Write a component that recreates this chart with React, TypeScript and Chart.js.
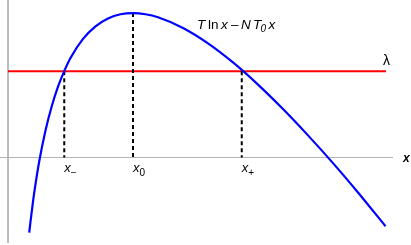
import React, { useEffect, useRef } from "react";
import { Chart, registerables } from "chart.js";

Chart.register(...registerables);

// Curve T ln x − N T0 x
const curveX = [0.17, 0.18, 0.2, 0.22, 0.25, 0.3, 0.35, 0.4, 0.45, 0.5, 0.6, 0.7, 0.8, 0.9, 1.0, 1.1, 1.2, 1.4, 1.6, 1.8, 2.0, 2.2, 2.4, 2.6, 2.8, 3.02];
const curveY = [-0.322, -0.275, -0.189, -0.114, -0.016, 0.116, 0.22, 0.304, 0.371, 0.427, 0.509, 0.563, 0.597, 0.615, 0.62, 0.615, 0.602, 0.556, 0.49, 0.408, 0.313, 0.208, 0.095, -0.024, -0.15, -0.295];

const lambdaValue = 0.37;
const lambdaRange = [0, 3.024];

const markerX = [0.45, 1.0, 1.87];
const markerY = [0.37, 0.62, 0.37];
const markerSubs = ["\u2212", "0", "+"];

const xRange = [-0.064, 3.224];
const yRange = [-0.3755, 0.676];
const hAxisRange = [-0.064, 3.08];
const vAxisRange = [-0.367, 0.676];

const FONT = "'Liberation Sans', Arial, sans-serif";

const textPlugin = {
  id: "textLabels",
  afterDatasetsDraw(chart: any) {
    const ctx = chart.ctx;
    const xs = chart.scales.x;
    const ys = chart.scales.y;
    ctx.save();
    ctx.fillStyle = "#000";
    ctx.textBaseline = "alphabetic";
    ctx.textAlign = "left";

    // formula
    const fx = 197;
    const fy = 29;
    const pieces = [
      { t: "T", dx: 0, f: "italic 13.5px " + FONT, dy: 0 },
      { t: "ln", dx: 11, f: "13.5px " + FONT, dy: 0 },
      { t: "x", dx: 24, f: "italic 13.5px " + FONT, dy: 0 },
      { t: "\u2013", dx: 34, f: "13.5px " + FONT, dy: 0 },
      { t: "N", dx: 44, f: "italic 13.5px " + FONT, dy: 0 },
      { t: "T", dx: 56, f: "italic 13.5px " + FONT, dy: 0 },
      { t: "0", dx: 63.5, f: "italic 10px " + FONT, dy: 3 },
      { t: "x", dx: 71.5, f: "italic 13.5px " + FONT, dy: 0 },
    ];
    for (const p of pieces) {
      ctx.font = p.f;
      ctx.fillText(p.t, fx + p.dx, fy + p.dy);
    }

    // marker labels
    const axisY = ys.getPixelForValue(0);
    markerX.forEach((mx, i) => {
      const px = xs.getPixelForValue(mx);
      ctx.font = "italic 13px " + FONT;
      ctx.fillText("x", px, axisY + 14);
      ctx.font = "10px " + FONT;
      ctx.fillText(markerSubs[i], px + 6.5, axisY + 18);
    });

    // lambda
    ctx.font = "14px " + FONT;
    ctx.fillText("\u03bb", xs.getPixelForValue(lambdaRange[1]) - 3, ys.getPixelForValue(lambdaValue) - 6);

    // x axis label
    ctx.font = "italic bold 12px " + FONT;
    ctx.fillText("x", xs.getPixelForValue(hAxisRange[1]) + 10, axisY + 4);
    ctx.restore();
  },
};

export default function App() {
  const ref = useRef<HTMLCanvasElement | null>(null);
  useEffect(() => {
    document.body.style.margin = "0";
    const canvas = ref.current!;
    const curve = curveX.map((x, i) => ({ x, y: curveY[i] }));
    const dashed = markerX.map((x, i) => ({
      type: "line" as const,
      data: [
        { x, y: markerY[i] },
        { x, y: 0 },
      ],
      borderColor: "#000",
      borderWidth: 2,
      borderDash: [4, 3],
      pointRadius: 0,
      order: 1,
    }));
    const chart = new Chart(canvas, {
      type: "line",
      data: {
        datasets: [
          {
            data: curve,
            borderColor: "#0000ff",
            borderWidth: 2.2,
            pointRadius: 0,
            cubicInterpolationMode: "monotone",
            order: 0,
          },
          ...dashed,
          {
            data: [
              { x: lambdaRange[0], y: lambdaValue },
              { x: lambdaRange[1], y: lambdaValue },
            ],
            borderColor: "#ff0000",
            borderWidth: 2,
            pointRadius: 0,
            order: 2,
          },
          {
            data: [
              { x: hAxisRange[0], y: 0 },
              { x: hAxisRange[1], y: 0 },
            ],
            borderColor: "#b3b3b3",
            borderWidth: 1,
            pointRadius: 0,
            order: 3,
          },
          {
            data: [
              { x: 0, y: vAxisRange[1] },
              { x: 0, y: vAxisRange[0] },
            ],
            borderColor: "#b3b3b3",
            borderWidth: 1,
            pointRadius: 0,
            order: 3,
          },
        ] as any,
      },
      options: {
        animation: false,
        responsive: false,
        maintainAspectRatio: false,
        layout: { padding: 0 },
        plugins: { legend: { display: false }, tooltip: { enabled: false } },
        scales: {
          x: { type: "linear", min: xRange[0], max: xRange[1], display: false },
          y: { type: "linear", min: yRange[0], max: yRange[1], display: false },
        },
      },
      plugins: [textPlugin],
    });
    return () => chart.destroy();
  }, []);
  return (
    <div style={{ position: "fixed", left: 0, top: 0, width: 411, height: 245, background: "#fff" }}>
      <canvas ref={ref} width={411} height={245} style={{ display: "block" }} />
    </div>
  );
}
